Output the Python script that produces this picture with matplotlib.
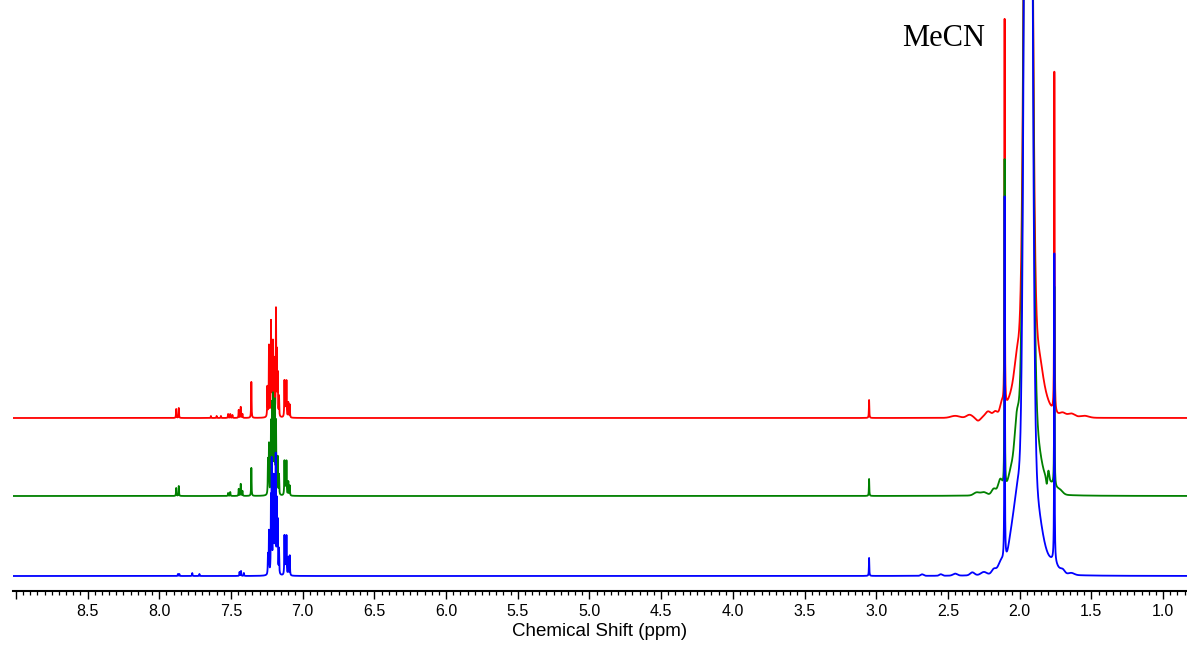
import numpy as np
import matplotlib.pyplot as plt
from matplotlib.ticker import MultipleLocator

# --- peak lists (shift in ppm, height in a.u.) ---------------------------
red_shifts = [7.882, 7.864, 7.64, 7.60, 7.57, 7.52, 7.505, 7.49, 7.446, 7.432, 7.42,
              7.358, 7.246, 7.235, 7.221, 7.214, 7.207, 7.200, 7.186, 7.180, 7.174,
              7.165, 7.127, 7.120, 7.113, 7.100, 7.090, 3.050, 2.105, 1.758]
red_heights = [9, 10, 2, 2, 2, 4, 4, 3, 8, 11, 4,
               36, 30, 71, 94, 50, 71, 55, 105, 60, 40,
               20, 36, 25, 36, 15, 13, 18, 388, 341]

green_shifts = [7.882, 7.864, 7.52, 7.505, 7.446, 7.432, 7.42, 7.358,
                7.242, 7.235, 7.221, 7.214, 7.207, 7.200, 7.193, 7.186, 7.174, 7.165,
                7.127, 7.120, 7.113, 7.100, 7.090, 3.050, 2.105, 1.758]
green_heights = [8, 10, 3, 4, 7, 12, 5, 28,
                 35, 50, 70, 85, 93, 80, 88, 70, 37, 20,
                 34, 20, 34, 14, 10, 17, 330, 200]

blue_shifts = [7.870, 7.860, 7.770, 7.720, 7.440, 7.430, 7.410,
               7.242, 7.235, 7.221, 7.216, 7.207, 7.202, 7.195, 7.188, 7.180, 7.174, 7.165,
               7.127, 7.120, 7.113, 7.100, 7.090, 3.050, 2.105, 1.758]
blue_heights = [2, 2, 3, 2, 4, 5, 3,
                20, 43, 70, 108, 70, 89, 60, 116, 70, 50, 25,
                39, 22, 39, 18, 20, 18, 365, 309]

# MeCN solvent signal: [core height, core sigma, foot height, foot sigma, tail height, tail width]
mecn_shift = 1.94
red_mecn = [1200, 0.021, 90, 0.075, 25, 0.04]
green_mecn = [1350, 0.021, 95, 0.06, 30, 0.05]
blue_mecn = [1600, 0.020, 100, 0.07, 40, 0.05]

# small broad baseline features around the solvent (shift, height, width)
red_bumps_shift = [2.02, 1.86, 2.125, 2.17, 2.22, 2.29, 2.35, 2.45, 1.70, 1.64, 1.55]
red_bumps_height = [12, 8, 10, 5, 6, -3, 3, 2, 4, 4, 2]
red_bumps_width = [0.015, 0.02, 0.012, 0.015, 0.02, 0.015, 0.02, 0.03, 0.02, 0.025, 0.03]

green_bumps_shift = [2.02, 2.06, 2.135, 2.18, 1.80, 1.81, 1.78, 1.72, 2.25, 2.30]
green_bumps_height = [35, 12, 14, 6, 10, -8, 8, 4, 3, 3]
green_bumps_width = [0.015, 0.02, 0.015, 0.015, 0.006, 0.005, 0.03, 0.02, 0.02, 0.02]

blue_bumps_shift = [2.02, 2.06, 2.13, 2.18, 2.25, 2.33, 2.45, 2.55, 2.68, 1.76, 1.70, 1.64]
blue_bumps_height = [25, 15, 10, 5, 3, 3, 2, 1.5, 1.5, 8, 4, 2]
blue_bumps_width = [0.02, 0.02, 0.02, 0.015, 0.02, 0.015, 0.015, 0.01, 0.01, 0.03, 0.015, 0.02]

offsets = [158, 80, 0]
colors = ['#ff0000', '#008000', '#0000ff']

ppm = np.linspace(9.05, 0.8, 24000)


def lorentz(x, x0, h, w):
    return h / (1 + ((x - x0) / w) ** 2)


def gauss(x, x0, h, s):
    return h * np.exp(-(x - x0) ** 2 / (2 * s ** 2))


def build(shifts, heights, mecn, b_shift, b_height, b_width, lw=0.0016):
    y = np.zeros_like(ppm)
    for s, h in zip(shifts, heights):
        y += lorentz(ppm, s, h, lw)
    y += gauss(ppm, mecn_shift, mecn[0], mecn[1])
    y += gauss(ppm, mecn_shift, mecn[2], mecn[3])
    y += lorentz(ppm, mecn_shift, mecn[4], mecn[5])
    for s, h, w in zip(b_shift, b_height, b_width):
        y += gauss(ppm, s, h, w)
    return y


spectra = [
    build(red_shifts, red_heights, red_mecn, red_bumps_shift, red_bumps_height, red_bumps_width),
    build(green_shifts, green_heights, green_mecn, green_bumps_shift, green_bumps_height, green_bumps_width),
    build(blue_shifts, blue_heights, blue_mecn, blue_bumps_shift, blue_bumps_height, blue_bumps_width),
]

plt.rcParams['font.family'] = ['Liberation Sans', 'DejaVu Sans']

fig = plt.figure(figsize=(11.87, 6.45), dpi=100)
ax = fig.add_axes([13 / 1187, 54 / 645, 1174 / 1187, 591 / 645])

for spec, off, c in zip(spectra, offsets, colors):
    ax.plot(ppm, spec + off, color=c, lw=1.3)

ax.set_xlim(9.02, 0.833)
ax.set_ylim(-15, 576)

for side in ['left', 'right', 'top']:
    ax.spines[side].set_visible(False)
ax.spines['bottom'].set_linewidth(1.5)
ax.set_yticks([])

major = np.arange(1.0, 9.01, 0.5)
ax.set_xticks(major)
ax.set_xticklabels([f'{v:.1f}' if v < 8.9 else '' for v in major])
ax.xaxis.set_minor_locator(MultipleLocator(0.05))
ax.tick_params(axis='x', which='major', length=6, width=1.0, labelsize=11.5, pad=3)
ax.tick_params(axis='x', which='minor', length=3, width=0.9)
ax.set_xlabel('Chemical Shift (ppm)', fontsize=13.5, labelpad=3)

ax.text(2.53, 538, 'MeCN', fontsize=22, family='Liberation Serif',
        ha='center', va='center', clip_on=False)

fig.savefig('out.png', dpi=100)
